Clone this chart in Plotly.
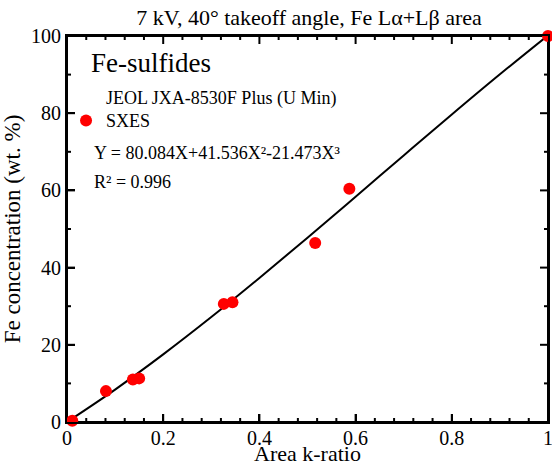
import plotly.graph_objects as go

# Measured standards
k_ratio = [0.011, 0.081, 0.137, 0.150, 0.326, 0.344, 0.516, 0.587, 1.0]
fe_wt = [0.3, 8.0, 11.0, 11.3, 30.6, 31.0, 46.4, 60.4, 100.0]

# Fit curve (Y = 80.084X+41.536X²-21.473X³) read at regular k-ratio steps
fit_x = [0.0, 0.1, 0.2, 0.3, 0.4, 0.5, 0.6, 0.7, 0.8, 0.9, 1.0]
fit_y = [0.0, 8.40, 17.51, 27.18, 37.31, 47.74, 58.37, 69.05, 79.66, 90.07, 100.15]

# Tick positions and labels
x_major = [0, 0.2, 0.4, 0.6, 0.8, 1.0]
x_labels = ["0", "0.2", "0.4", "0.6", "0.8", "1"]
x_minor = [0.04, 0.08, 0.12, 0.16, 0.24, 0.28, 0.32, 0.36, 0.44, 0.48, 0.52, 0.56,
           0.64, 0.68, 0.72, 0.76, 0.84, 0.88, 0.92, 0.96]
y_major = [0, 20, 40, 60, 80, 100]
y_minor = [10, 30, 50, 70, 90]

FONT = "Liberation Serif"
X_RANGE = [0, 1]
Y_RANGE = [0, 100]
W, H = 552, 466
M = dict(l=67, r=4, t=36, b=44)
PLOT_W = W - M["l"] - M["r"]
PLOT_H = H - M["t"] - M["b"]
# tick lengths in pixels, converted to data units through the axis spans
px_x = (X_RANGE[1] - X_RANGE[0]) / PLOT_W
px_y = (Y_RANGE[1] - Y_RANGE[0]) / PLOT_H

fig = go.Figure()
fig.add_trace(go.Scatter(
    x=fit_x, y=fit_y, mode="lines", line=dict(color="black", width=2, shape="spline"),
    showlegend=False, hoverinfo="skip", cliponaxis=False))

# frame and inside tick marks on all four sides
fx, fy = [], []
x0, x1 = X_RANGE
y0, y1 = Y_RANGE
fx += [x0, x1, x1, x0, x0, None]
fy += [y0, y0, y1, y1, y0, None]
for vals, ln in ((x_major, 8), (x_minor, 4)):
    for v in vals:
        fx += [v, v, None, v, v, None]
        fy += [y0, y0 + ln * px_y, None, y1, y1 - ln * px_y, None]
for vals, ln in ((y_major, 8), (y_minor, 4)):
    for v in vals:
        fx += [x0, x0 + ln * px_x, None, x1, x1 - ln * px_x, None]
        fy += [v, v, None, v, v, None]
fig.add_trace(go.Scatter(x=fx, y=fy, mode="lines", line=dict(color="black", width=2),
                         showlegend=False, hoverinfo="skip", cliponaxis=False))

fig.add_trace(go.Scatter(
    x=k_ratio, y=fe_wt, mode="markers", name="JEOL JXA-8530F Plus (U Min)<br>SXES",
    marker=dict(color="#ff0000", size=12, line=dict(width=0)), cliponaxis=False))

axis_common = dict(
    showline=True, linecolor="black", linewidth=2, mirror=True,
    ticks="inside", ticklen=8, tickwidth=2, tickcolor="black",
    showgrid=False, zeroline=False, automargin=False, ticklabeloverflow="allow",
    tickfont=dict(family=FONT, size=20, color="black"),
)

fig.update_layout(
    template="none",
    xaxis=dict(range=X_RANGE, tickmode="array", tickvals=x_major, ticktext=x_labels,
               ticklabelstandoff=-3,
               title=dict(text="Area k-ratio", font=dict(family=FONT, size=22, color="black")),
               **axis_common),
    yaxis=dict(range=Y_RANGE, tickmode="array", tickvals=y_major,
               title=dict(text="Fe concentration (wt. %)", font=dict(family=FONT, size=23, color="black")),
               **axis_common),
    width=W, height=H,
    margin=M,
    paper_bgcolor="white", plot_bgcolor="white",
    font=dict(family=FONT, color="black"),
    title=dict(text="7 kV, 40° takeoff angle, Fe Lα+Lβ area", x=0.56, xanchor="center",
               y=0.963, yanchor="middle", font=dict(family=FONT, size=22, color="black")),
    showlegend=True,
    legend=dict(x=-0.002, y=0.889, xanchor="left", yanchor="top", valign="bottom",
                bgcolor="rgba(0,0,0,0)", borderwidth=0, font=dict(family=FONT, size=18, color="black"),
                itemwidth=30, tracegroupgap=0),
    annotations=[
        dict(text="Fe-sulfides", xref="paper", yref="paper", x=0.045, y=0.930,
             xanchor="left", yanchor="middle", showarrow=False,
             font=dict(family=FONT, size=27, color="black")),
        dict(text="Y = 80.084X+41.536X²-21.473X³", xref="paper", yref="paper",
             x=0.051, y=0.697, xanchor="left", yanchor="middle", showarrow=False,
             font=dict(family=FONT, size=18, color="black")),
        dict(text="R² = 0.996", xref="paper", yref="paper",
             x=0.051, y=0.622, xanchor="left", yanchor="middle", showarrow=False,
             font=dict(family=FONT, size=18, color="black")),
    ],
)

fig.write_html("out.html", config={"displayModeBar": False},
               post_script="document.body.style.margin='0';document.body.style.overflow='hidden';")
